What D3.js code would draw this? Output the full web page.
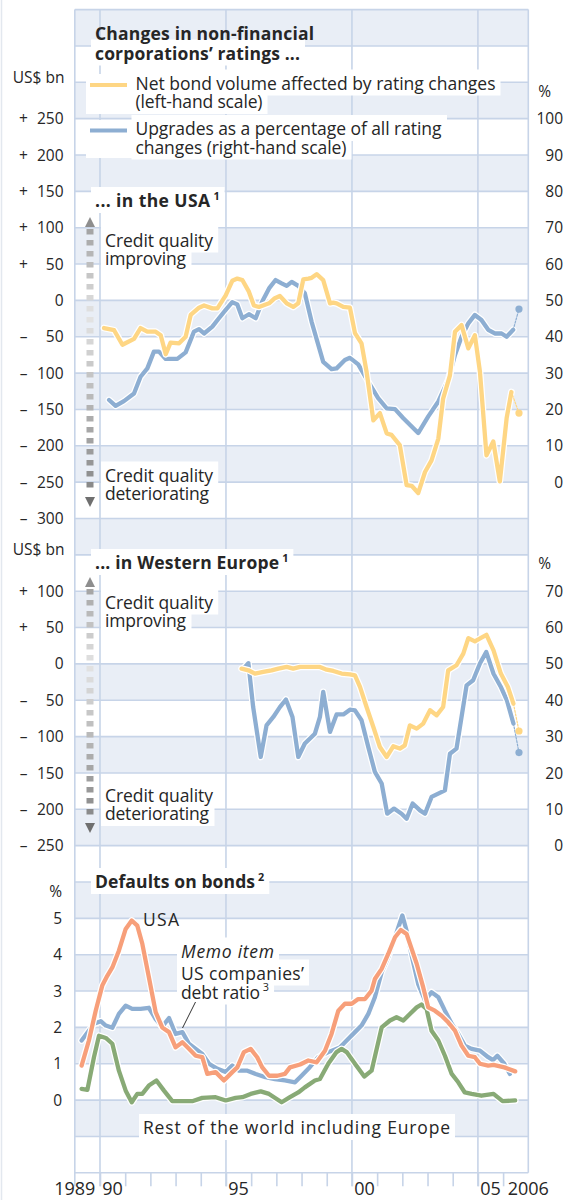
<!DOCTYPE html>
<html><head><meta charset="utf-8">
<script src="https://cdn.jsdelivr.net/npm/d3@7"></script>
<style>
body{margin:0;background:#fff;}
svg text{font-family:"Open Sans","Noto Sans",sans-serif;fill:#262626;}
</style></head><body>
<svg id="c" width="567" height="1200"></svg>
<script>
// ---------------- DATA ----------------
// USA: net bond volume affected by rating changes (US$ bn, left scale)
const usaBond = [[1990.16,-38],[1990.56,-41],[1990.89,-61],[1991.35,-53],[1991.61,-38],[1991.88,-43],[1992.21,-43],[1992.41,-48],[1992.61,-74],[1992.80,-58],[1993.14,-59],[1993.40,-50],[1993.60,-20],[1993.93,-10],[1994.13,-7],[1994.46,-11],[1994.66,-11],[1994.99,7],[1995.25,27],[1995.45,30],[1995.65,28],[1995.91,12],[1996.11,-7],[1996.31,-9],[1996.71,-4],[1996.94,3],[1997.14,6],[1997.41,-4],[1997.67,-9],[1997.87,-4],[1998.07,29],[1998.27,30],[1998.40,31],[1998.60,36],[1998.86,28],[1999.13,-4],[1999.26,-3],[1999.39,-4],[1999.66,-9],[1999.92,-10],[2000.12,-45],[2000.38,-59],[2000.58,-98],[2000.85,-165],[2001.11,-155],[2001.38,-183],[2001.57,-185],[2001.90,-199],[2002.17,-254],[2002.37,-255],[2002.63,-265],[2002.90,-236],[2003.16,-220],[2003.43,-190],[2003.62,-135],[2003.89,-103],[2004.09,-43],[2004.35,-34],[2004.62,-66],[2004.88,-48],[2005.08,-98],[2005.34,-213],[2005.61,-194],[2005.87,-249],[2006.14,-162],[2006.33,-126]];
const usaBondLatest = [2006.63,-155];
// USA: upgrades as % of all rating changes (right scale)
const usaUpgrades = [[1990.36,22.6],[1990.62,21.0],[1990.95,22.3],[1991.35,24.4],[1991.61,29.0],[1991.88,31.3],[1992.14,35.9],[1992.34,35.9],[1992.61,33.9],[1993.07,33.9],[1993.40,35.7],[1993.73,41.4],[1993.93,42.1],[1994.13,40.9],[1994.46,42.8],[1994.72,45.1],[1994.99,47.4],[1995.25,49.5],[1995.45,48.9],[1995.65,45.1],[1995.91,46.2],[1996.18,45.1],[1996.44,49.7],[1996.71,53.3],[1996.97,55.6],[1997.21,54.7],[1997.41,54.0],[1997.61,55.1],[1997.87,54.0],[1998.13,52.0],[1998.40,44.1],[1998.86,33.1],[1999.19,31.1],[1999.39,31.3],[1999.72,33.6],[1999.92,34.2],[2000.25,32.4],[2000.65,27.6],[2001.04,23.1],[2001.38,20.3],[2001.71,20.1],[2002.04,17.6],[2002.30,15.8],[2002.63,13.5],[2003.03,18.1],[2003.43,22.2],[2003.82,28.1],[2004.09,35.0],[2004.35,40.0],[2004.62,43.7],[2004.88,46.0],[2005.14,44.6],[2005.41,41.9],[2005.67,40.9],[2005.94,40.9],[2006.14,40.0],[2006.40,41.9]];
const usaUpgradesLatest = [2006.63,47.6];
// Western Europe: net bond volume (US$ bn)
const euBond = [[1995.62,-6.5],[1995.89,-8.8],[1996.15,-13.3],[1996.48,-11.1],[1996.81,-8.8],[1997.08,-6.5],[1997.41,-4.2],[1997.67,-6.5],[1997.94,-4.2],[1998.33,-4.2],[1998.73,-4.2],[1999.00,-7.9],[1999.26,-9.7],[1999.59,-13.3],[1999.92,-14.3],[2000.12,-15.7],[2000.32,-31.7],[2000.58,-59.3],[2000.85,-86.8],[2001.11,-114.3],[2001.38,-128],[2001.64,-113.3],[2001.90,-116.5],[2002.10,-112],[2002.30,-84.5],[2002.57,-89],[2002.83,-82.1],[2003.10,-63.8],[2003.36,-70.7],[2003.62,-59.3],[2003.82,-8.8],[2004.15,-1.9],[2004.42,14.2],[2004.62,35.5],[2004.88,31],[2005.14,36],[2005.34,40],[2005.62,18.7],[2005.91,-13.3],[2006.19,-31.8],[2006.41,-54.6]];
const euBondLatest = [2006.63,-92.3];
// Western Europe: upgrades as % of all rating changes
const euUpgrades = [[1995.69,48.7],[1995.89,50.2],[1996.08,38.1],[1996.38,24.4],[1996.61,33.1],[1996.88,35.4],[1997.14,38.1],[1997.38,40.2],[1997.64,35.4],[1997.87,24.4],[1998.13,28.1],[1998.53,30.8],[1998.73,35.4],[1998.86,42.3],[1999.13,31.3],[1999.39,36.1],[1999.66,36.1],[1999.92,37.4],[2000.12,37.2],[2000.38,34.5],[2000.65,27.1],[2000.91,20.3],[2001.18,17.1],[2001.40,8.8],[2001.67,10.2],[2001.97,8.8],[2002.17,7.4],[2002.41,11.6],[2002.70,9.7],[2002.90,8.8],[2003.16,13.4],[2003.69,15.2],[2003.89,25.3],[2004.15,26.7],[2004.55,44.1],[2004.81,45.5],[2005.08,50.1],[2005.33,53.3],[2005.62,47.3],[2005.90,43.8],[2006.15,40.0],[2006.41,33.6]];
const euUpgradesLatest = [2006.63,25.6];
// Defaults on bonds (%)
const defaultsUSA = [[1989.27,0.95],[1989.56,1.64],[1989.83,2.46],[1990.09,3.15],[1990.29,3.42],[1990.49,3.65],[1990.75,4.11],[1991.02,4.71],[1991.26,4.94],[1991.48,4.80],[1991.68,4.30],[1991.94,3.38],[1992.21,2.42],[1992.47,2.00],[1992.74,1.87],[1993.00,1.45],[1993.27,1.59],[1993.53,1.41],[1993.80,1.22],[1994.06,1.18],[1994.26,0.72],[1994.59,0.77],[1994.92,0.54],[1995.25,0.77],[1995.45,0.90],[1995.71,1.32],[1995.98,1.41],[1996.24,1.18],[1996.44,0.90],[1996.71,0.67],[1997.04,0.67],[1997.34,0.72],[1997.54,0.90],[1997.94,0.98],[1998.27,1.09],[1998.60,1.04],[1998.93,1.36],[1999.19,1.82],[1999.46,2.46],[1999.72,2.65],[1999.99,2.65],[2000.25,2.78],[2000.52,2.78],[2000.78,3.01],[2000.91,3.33],[2001.18,3.61],[2001.44,4.02],[2001.71,4.48],[2001.94,4.68],[2002.17,4.57],[2002.37,4.16],[2002.57,3.75],[2002.83,3.10],[2003.03,2.55],[2003.29,2.46],[2003.56,2.32],[2003.82,2.14],[2004.09,1.91],[2004.35,1.50],[2004.62,1.22],[2004.88,1.18],[2005.08,1.00],[2005.41,0.95],[2005.62,0.97],[2006.05,0.90],[2006.48,0.79]];
const debtRatioUS = [[1989.27,1.64],[1989.76,2.10],[1990.03,2.17],[1990.23,2.05],[1990.49,1.99],[1990.75,2.37],[1991.02,2.60],[1991.28,2.51],[1991.61,2.51],[1991.94,2.54],[1992.21,2.23],[1992.47,2.02],[1992.74,2.26],[1993.00,1.82],[1993.27,1.87],[1993.53,1.55],[1993.80,1.41],[1994.06,1.27],[1994.33,1.00],[1994.66,0.86],[1994.99,0.77],[1995.25,0.95],[1995.52,0.81],[1995.85,0.81],[1996.18,0.72],[1996.57,0.63],[1996.94,0.58],[1997.34,0.54],[1997.74,0.49],[1998.00,0.67],[1998.27,0.86],[1998.66,1.18],[1999.06,1.32],[1999.52,1.45],[1999.79,1.64],[2000.12,1.87],[2000.38,2.05],[2000.65,2.37],[2000.91,2.83],[2001.18,3.52],[2001.44,3.93],[2001.71,4.48],[2002.00,5.08],[2002.17,4.66],[2002.37,3.98],[2002.63,3.19],[2002.90,2.74],[2003.16,2.97],[2003.43,2.83],[2003.69,2.46],[2003.96,2.10],[2004.22,1.82],[2004.48,1.50],[2004.75,1.41],[2005.08,1.36],[2005.41,1.18],[2005.60,1.10],[2005.77,1.22],[2006.05,1.00],[2006.27,0.72]];
const defaultsRest = [[1989.27,0.31],[1989.50,0.28],[1989.76,1.18],[1989.96,1.77],[1990.23,1.71],[1990.49,1.55],[1990.75,0.81],[1991.02,0.26],[1991.26,-0.06],[1991.48,0.17],[1991.68,0.17],[1991.94,0.40],[1992.24,0.54],[1992.54,0.26],[1992.87,-0.03],[1993.66,-0.03],[1994.06,0.06],[1994.59,0.08],[1994.99,-0.01],[1995.38,0.06],[1995.65,0.08],[1995.98,0.17],[1996.38,0.24],[1996.71,0.17],[1997.21,-0.06],[1997.54,0.08],[1997.87,0.21],[1998.13,0.35],[1998.53,0.54],[1998.73,0.58],[1999.06,1.00],[1999.39,1.32],[1999.59,1.41],[1999.79,1.32],[2000.12,1.00],[2000.49,0.65],[2000.78,0.81],[2001.18,2.00],[2001.51,2.19],[2001.77,2.28],[2002.04,2.19],[2002.30,2.37],[2002.57,2.55],[2002.76,2.63],[2002.96,2.51],[2003.16,1.91],[2003.43,1.64],[2003.69,1.22],[2003.96,0.72],[2004.22,0.49],[2004.48,0.21],[2004.75,0.17],[2005.14,0.12],[2005.62,0.17],[2005.98,-0.03],[2006.48,-0.01]];

// tick values / labels
const usaLeftTicks = [250,200,150,100,50,0,-50,-100,-150,-200,-250,-300];
const usaRightTicks = [100,90,80,70,60,50,40,30,20,10,0];
const euLeftTicks = [100,50,0,-50,-100,-150,-200,-250];
const euRightTicks = [70,60,50,40,30,20,10,0];
const defTicks = [5,4,3,2,1,0];
const yearTicks = d3.range(1990, 2007);
const yearLabelPos = [1989, 1990.5, 1995.5, 2000.5, 2005.5, 2007];
const yearLabels = ["1989","90","95","00","05","2006"];

// ---------------- LAYOUT ----------------
const C = {yellow:"#fed684", blue:"#8daed2", orange:"#f79f7a", green:"#88aa76",
  band:"#e9eef6", grid:"#c7d4e8"};
const svg = d3.select("#c");
const L = 74.8, R = 528.3;
const step = 36.35, y0 = 300.4;              // uniform horizontal grid
const yk = k => y0 + step * k;
const kMin = -8, kMax = 24;

const x = d3.scaleLinear().domain([1989, 2007]).range([L, R]);
const yUSA = d3.scaleLinear().domain([-350, 400]).range([yk(7), yk(-8)]);
const yUSAp = d3.scaleLinear().domain([0, 100]).range([yk(5), yk(-5)]);
const yEU = d3.scaleLinear().domain([-250, 150]).range([yk(15), yk(7)]);
const yEUp = d3.scaleLinear().domain([0, 70]).range([yk(15), yk(8)]);
const yDef = d3.scaleLinear().domain([-2, 6]).range([yk(24), yk(16)]);

svg.append("line").attr("x1",1.5).attr("x2",1.5).attr("y1",0).attr("y2",1200)
  .attr("stroke","#e3e8ef").attr("stroke-width",1.5);

// bands
const gGrid = svg.append("g");
gGrid.selectAll("rect.band").data(d3.range(kMin, kMax).filter(k => (k % 2 + 2) % 2 === 0))
  .join("rect").attr("class","band")
  .attr("x", L).attr("width", R - L)
  .attr("y", k => yk(k)).attr("height", step).attr("fill", C.band);
gGrid.selectAll("line.h").data(d3.range(kMin, kMax + 1)).join("line").attr("class","h")
  .attr("x1", L).attr("x2", R).attr("y1", k => yk(k)).attr("y2", k => yk(k))
  .attr("stroke", C.grid).attr("stroke-width", 1.6);
const axisY = yk(kMax);
gGrid.selectAll("line.v").data([1990,1995,2000,2005]).join("line").attr("class","v")
  .attr("x1", d => x(d)).attr("x2", d => x(d)).attr("y1", yk(kMin)).attr("y2", axisY + 13.5)
  .attr("stroke", C.grid).attr("stroke-width", 1.6);
gGrid.append("line").attr("x1", L).attr("x2", L).attr("y1", yk(kMin)).attr("y2", axisY + 13.5)
  .attr("stroke", C.grid).attr("stroke-width", 1.6);
gGrid.append("line").attr("x1", R).attr("x2", R).attr("y1", yk(kMin)).attr("y2", axisY)
  .attr("stroke", C.grid).attr("stroke-width", 1.6);
const xAxis = d3.axisBottom(x).tickValues(yearTicks).tickSize(13.5).tickFormat("");
const gx = svg.append("g").attr("transform", `translate(0,${axisY})`).call(xAxis);
gx.select(".domain").remove();
gx.selectAll(".tick line").attr("stroke", C.grid).attr("stroke-width", 1.6);
svg.selectAll("text.yl").data(yearLabelPos).join("text").attr("class","yl")
  .attr("x", d => x(d)).attr("y", 1194.5).attr("text-anchor","middle")
  .attr("font-size", 18).text((d,i) => yearLabels[i]);

// ---------------- AXIS LABELS ----------------
const gAx = svg.append("g");
const AX = 15.5;
function leftSigned(ticks, scale) {
  ticks.forEach(v => {
    const yy = scale(v);
    gAx.append("text").attr("x", 63.5).attr("y", yy).attr("dy","0.36em")
      .attr("text-anchor","end").attr("font-size",AX).text(Math.abs(v));
    if (v !== 0) gAx.append("text").attr("x", 23.5).attr("y", yy).attr("dy","0.36em")
      .attr("text-anchor","middle").attr("font-size",AX).text(v > 0 ? "+" : "\u2013");
  });
}
function rightTicks(ticks, scale) {
  gAx.selectAll(null).data(ticks).join("text").attr("x", 563).attr("y", d => scale(d))
    .attr("dy","0.36em").attr("text-anchor","end").attr("font-size",AX).text(d => d);
}
leftSigned(usaLeftTicks, yUSA);
rightTicks(usaRightTicks, yUSAp);
leftSigned(euLeftTicks, yEU);
rightTicks(euRightTicks, yEUp);
gAx.selectAll(null).data(defTicks).join("text").attr("x", 62).attr("y", d => yDef(d))
  .attr("dy","0.36em").attr("text-anchor","end").attr("font-size",AX).text(d => d);
gAx.append("text").attr("x",64.5).attr("y",yUSA(300)+0.5).attr("text-anchor","end").attr("font-size",AX).text("US$ bn");
gAx.append("text").attr("x",64.5).attr("y",yEU(150)+0.5).attr("text-anchor","end").attr("font-size",AX).text("US$ bn");
gAx.append("text").attr("x",551).attr("y",yUSA(300)+14.5).attr("text-anchor","end").attr("font-size",AX).text("%");
gAx.append("text").attr("x",551).attr("y",yEU(150)+14.5).attr("text-anchor","end").attr("font-size",AX).text("%");
gAx.append("text").attr("x",62).attr("y",yDef(6)+15).attr("text-anchor","end").attr("font-size",AX).text("%");

// ---------------- ANNOTATIONS ----------------
const gBox = svg.append("g");
const gTxt = svg.append("g");
// multi-line label: one <text>, one <tspan> per line (with optional superscript)
function block(xp, lines, o = {}) {
  const size = o.size || 17.5;
  const t = gTxt.append("text").attr("font-size", size).attr("font-weight", o.bold ? 700 : 400);
  lines.forEach(l => {
    const ts = t.append("tspan").attr("x", xp).attr("y", l.y)
      .attr("font-style", l.italic ? "italic" : null).text(l.t);
    if (l.w) ts.attr("textLength", l.w).attr("lengthAdjust", "spacing");
    let sp = null;
    if (l.sup) sp = t.append("tspan").attr("font-size", size * 0.62).attr("dx", 3)
      .attr("dy", -size * 0.42).text(l.sup);
    if (l.box) {
      const b = ts.node().getBBox();
      let x2 = b.x + b.width;
      if (sp) { const bs = sp.node().getBBox(); x2 = Math.max(x2, bs.x + bs.width); }
      gBox.append("rect").attr("x", b.x - 4).attr("y", b.y - 1)
        .attr("width", x2 - b.x + 9).attr("height", b.height + 2).attr("fill", "#fff");
    }
  });
  return t;
}
// title
block(95, [{t:"Changes in non-financial", y:40, w:219},
           {t:"corporations\u2019 ratings ...", y:59.5, w:205, box:true}], {bold:true});
// legend
gBox.append("rect").attr("x",86).attr("y",74).attr("width",52).attr("height",40).attr("fill","#fff");
gBox.append("rect").attr("x",86).attr("y",120).attr("width",52).attr("height",38).attr("fill","#fff");
block(135.5, [{t:"Net bond volume affected by rating changes", y:89.5, w:360, box:true},
              {t:"(left-hand scale)", y:108, w:127, box:true}]);
block(135.5, [{t:"Upgrades as a percentage of all rating", y:135, w:306, box:true},
              {t:"changes (right-hand scale)", y:153.5, w:211, box:true}]);
gTxt.append("line").attr("x1",90).attr("x2",127).attr("y1",85).attr("y2",85)
  .attr("stroke",C.yellow).attr("stroke-width",4);
gTxt.append("line").attr("x1",90).attr("x2",127).attr("y1",130.5).attr("y2",130.5)
  .attr("stroke",C.blue).attr("stroke-width",4);
// panel titles
block(95, [{t:"... in the USA", y:207, sup:"1", w:115, box:true}], {bold:true});
block(95, [{t:"... in Western Europe", y:569, sup:"1", w:184, box:true}], {bold:true});
block(95, [{t:"Defaults on bonds", y:888, sup:"2", w:160, box:true}], {bold:true});
// credit quality arrows + labels
function arrow(xc, yTop, yBot) {
  const g = svg.append("g");
  const col = d3.scaleLinear().domain([0, 0.33, 1]).range(["#9c9c9c","#e4e4e4","#7d7d7d"]);
  const s0 = yTop + 12, s1 = yBot - 12;
  const ys = d3.range(s0, s1 - 4, 11);
  g.selectAll("rect").data(ys).join("rect").attr("x", xc - 3.5).attr("width", 7)
    .attr("y", d => d).attr("height", 5.5).attr("fill", d => col((d - yTop) / (yBot - yTop)));
  g.append("path").attr("d", `M${xc},${yTop}L${xc-5},${yTop+10}L${xc+5},${yTop+10}Z`).attr("fill","#8e8e8e");
  g.append("path").attr("d", `M${xc},${yBot}L${xc-5},${yBot-10}L${xc+5},${yBot-10}Z`).attr("fill","#6f6f6f");
}
arrow(90, 217, 507);
arrow(90, 577, 833);
block(105, [{t:"Credit quality", y:246.5, w:108, box:true}, {t:"improving", y:264.5, w:81, box:true}]);
block(105, [{t:"Credit quality", y:481.5, w:108, box:true}, {t:"deteriorating", y:500, w:104, box:true}]);
block(105, [{t:"Credit quality", y:608.5, w:108, box:true}, {t:"improving", y:626.5, w:81, box:true}]);
block(105, [{t:"Credit quality", y:801.5, w:108, box:true}, {t:"deteriorating", y:820, w:104, box:true}]);
// defaults annotations
block(143, [{t:"USA", y:925.5, w:36}]);
block(181, [{t:"Memo item", y:957.5, italic:true, w:93, box:true},
            {t:"US companies\u2019", y:979.5, w:123, box:true},
            {t:"debt ratio", y:998.5, sup:"3", w:79, box:true}]);
svg.append("line").attr("x1",195.5).attr("y1",1002).attr("x2",182.5).attr("y2",1028)
  .attr("stroke","#333").attr("stroke-width",1);
block(143, [{t:"Rest of the world including Europe", y:1134, w:307, box:true}]);

// ---------------- SERIES ----------------
const gLines = svg.append("g").attr("fill","none").attr("stroke-linejoin","round").attr("stroke-linecap","round");
function series(data, ys, color, latest) {
  const line = d3.line().x(d => x(d[0])).y(d => ys(d[1]));
  gLines.append("path").attr("d", line(data)).attr("stroke","#fff").attr("stroke-width",6.8);
  gLines.append("path").attr("d", line(data)).attr("stroke",color).attr("stroke-width",4.3);
  if (latest) {
    const last = data[data.length - 1];
    gLines.append("path").attr("d", line([last, latest])).attr("stroke",color)
      .attr("stroke-width",1.2).attr("stroke-dasharray","2,1.5");
    gLines.append("circle").attr("cx", x(latest[0])).attr("cy", ys(latest[1])).attr("r",3.6)
      .attr("fill",color).attr("stroke","none");
  }
}
series(usaUpgrades, yUSAp, C.blue, usaUpgradesLatest);
series(usaBond, yUSA, C.yellow, usaBondLatest);
series(euUpgrades, yEUp, C.blue, euUpgradesLatest);
series(euBond, yEU, C.yellow, euBondLatest);
series(debtRatioUS, yDef, C.blue);
series(defaultsRest, yDef, C.green);
series(defaultsUSA, yDef, C.orange);
</script>
</body></html>
